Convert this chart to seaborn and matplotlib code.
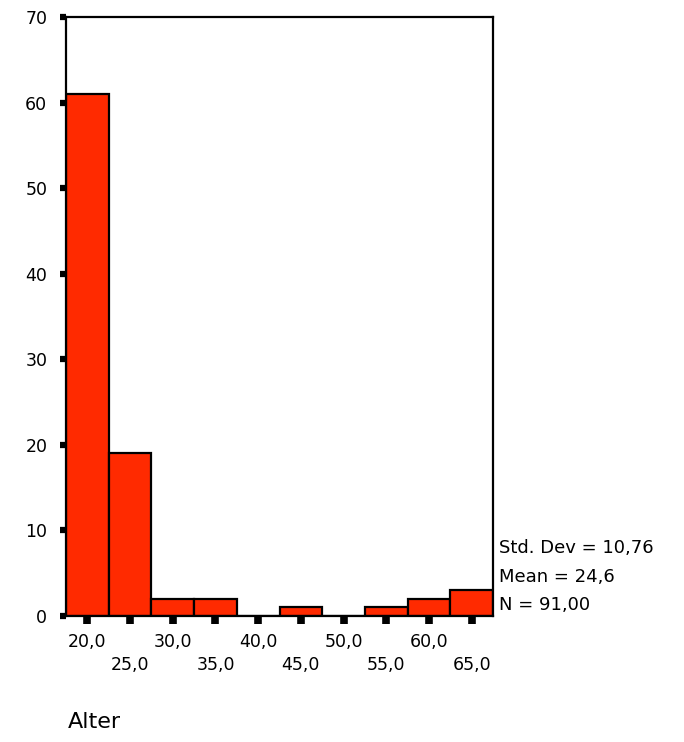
import matplotlib
matplotlib.use("Agg")
import matplotlib.pyplot as plt
import seaborn as sns

# bin centres (Alter) and counts
bin_centers = [20, 25, 30, 35, 40, 45, 50, 55, 60, 65]
counts = [61, 19, 2, 2, 0, 1, 0, 1, 2, 3]
bin_edges = [17.5, 22.5, 27.5, 32.5, 37.5, 42.5, 47.5, 52.5, 57.5, 62.5, 67.5]
y_ticks = [0, 10, 20, 30, 40, 50, 60, 70]
stats_lines = ["Std. Dev = 10,76", "Mean = 24,6", "N = 91,00"]

sns.set_style("white")
plt.rcParams["font.family"] = ["DejaVu Sans"]
plt.rcParams["text.color"] = "black"
plt.rcParams["xtick.color"] = "black"
plt.rcParams["ytick.color"] = "black"
plt.rcParams["xtick.bottom"] = True
plt.rcParams["ytick.left"] = True

fig = plt.figure(figsize=(6.84, 7.42), dpi=100)
ax = fig.add_axes([0.0965, 0.1698, 0.6243, 0.8073])

sns.histplot(x=bin_centers, weights=counts, bins=bin_edges, ax=ax,
             color="#FF2A00", alpha=1, edgecolor="black", linewidth=1.6)

ax.set_xlim(17.5, 67.5)
ax.set_ylim(0, 70)
ax.set_yticks(y_ticks)
ax.set_yticklabels([str(v) for v in y_ticks], fontsize=12.5)

labels = []
for i, c in enumerate(bin_centers):
    txt = f"{c},0"
    labels.append(txt if i % 2 == 0 else "\n" + txt)
ax.set_xticks(bin_centers)
ax.set_xticklabels(labels, fontsize=12.5, linespacing=1.3)

ax.tick_params(axis="x", bottom=True, direction="out", length=5.5, width=5.5, pad=7)
ax.tick_params(axis="y", left=True, direction="out", length=4.5, width=4.5, pad=9)
ax.set_ylabel("")
ax.set_xlabel("")

for s in ax.spines.values():
    s.set_visible(True)
    s.set_color("black")
    s.set_linewidth(1.6)

for i, line in enumerate(stats_lines):
    fig.text(0.729, 0.262 - i * 0.039, line, fontsize=13, va="center", ha="left")

fig.text(0.099, 0.013, "Alter", fontsize=16, ha="left", va="bottom")

fig.savefig("out.png", dpi=100)
